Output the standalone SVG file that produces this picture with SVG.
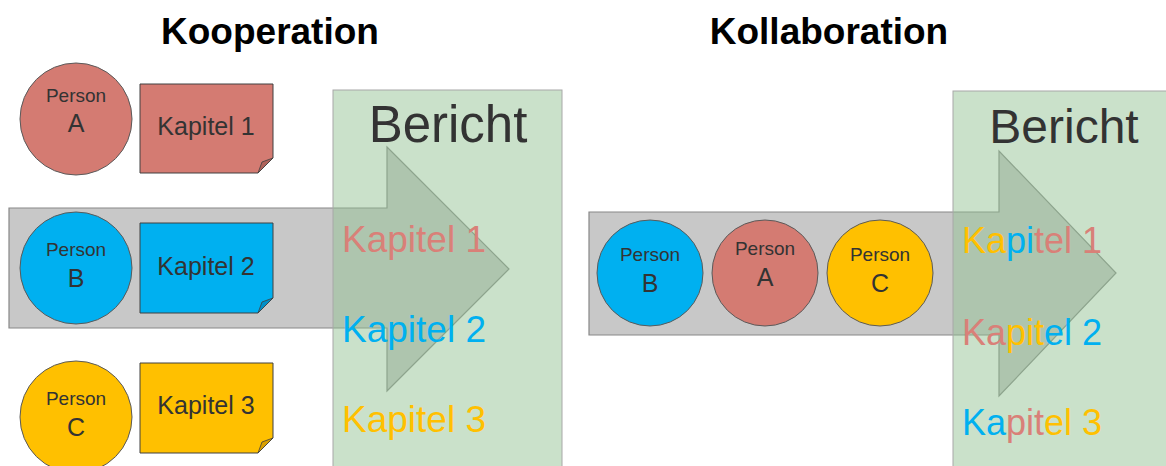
<svg xmlns="http://www.w3.org/2000/svg" width="1166" height="466" viewBox="0 0 1166 466">
  <style>
    text { font-family: "Liberation Sans", Arial, sans-serif; }
    .title { font-size: 37px; font-weight: bold; fill: #000; text-anchor: middle; }
    .circ { stroke: #5a5a5a; stroke-width: 1; }
    .note { stroke: #404040; stroke-width: 1; }
    .fold { stroke: #404040; stroke-width: 0.8; }
    .lbl { fill: #333; text-anchor: middle; }
    .p { font-size: 19px; }
    .l { font-size: 25px; }
    .k { font-size: 25px; }
    .arrow { fill: #c8c8c8; stroke: #888; stroke-width: 1.2; }
    .report { fill: #92c292; fill-opacity: 0.49; stroke: #a8a8a8; stroke-width: 1; }
    .rt { font-size: 51px; fill: #333; text-anchor: middle; }
    .rt2 { font-size: 48px; }
    .ch { font-size: 37px; }
    .ch2 { font-size: 36px; }
    .red { fill: #d98078; }
    .blue { fill: #00b0f0; }
    .yel { fill: #ffc000; }
    .cr { fill: #d47b72; }
    .cb { fill: #00b0f0; }
    .cy { fill: #ffc000; }
    .fr { fill: #b0625a; }
    .fb { fill: #0090c8; }
    .fy { fill: #d9a000; }
  </style>

  <!-- section titles -->
  <text class="title" x="270" y="44">Kooperation</text>
  <text class="title" x="829" y="44">Kollaboration</text>

  <!-- flow arrows (drawn below the report panels) -->
  <g id="connectors">
    <path class="arrow" d="M9,208 H387 V147 L509,269 L387,391 V328 H9 Z"/>
    <path class="arrow" d="M589,212 H999 V151 L1116,273 L999,396 V335 H589 Z"/>
  </g>

  <!-- Kooperation: persons and their chapters -->
  <g id="personA1">
    <circle class="circ cr" cx="76" cy="119" r="56"/>
    <text class="lbl p" x="76" y="102">Person</text>
    <text class="lbl l" x="76" y="132">A</text>
  </g>
  <g id="kapitel1">
    <path class="note cr" d="M140,84 H273 V158 L258,173 H140 Z"/>
    <path class="fold fr" d="M273,158 L262,162 L258,173 Z"/>
    <text class="lbl k" x="206" y="135">Kapitel 1</text>
  </g>

  <g id="personB1">
    <circle class="circ cb" cx="76" cy="268" r="56"/>
    <text class="lbl p" x="76" y="256">Person</text>
    <text class="lbl l" x="76" y="287">B</text>
  </g>
  <g id="kapitel2">
    <path class="note cb" d="M140,223 H273 V298 L258,313 H140 Z"/>
    <path class="fold fb" d="M273,298 L262,302 L258,313 Z"/>
    <text class="lbl k" x="206" y="275">Kapitel 2</text>
  </g>

  <g id="personC1">
    <circle class="circ cy" cx="76" cy="417" r="56"/>
    <text class="lbl p" x="76" y="405">Person</text>
    <text class="lbl l" x="76" y="436">C</text>
  </g>
  <g id="kapitel3">
    <path class="note cy" d="M140,363 H273 V438 L258,453 H140 Z"/>
    <path class="fold fy" d="M273,438 L262,442 L258,453 Z"/>
    <text class="lbl k" x="206" y="414">Kapitel 3</text>
  </g>

  <!-- Kooperation report -->
  <g id="bericht1">
    <rect class="report" x="333" y="90" width="229" height="390"/>
    <text class="rt" x="448" y="142">Bericht</text>
    <text class="ch red" x="342" y="252">Kapitel 1</text>
    <text class="ch blue" x="342" y="342">Kapitel 2</text>
    <text class="ch yel" x="342" y="432">Kapitel 3</text>
  </g>

  <!-- Kollaboration: persons together -->
  <g id="personB2">
    <circle class="circ cb" cx="650" cy="273" r="53"/>
    <text class="lbl p" x="650" y="261">Person</text>
    <text class="lbl l" x="650" y="292">B</text>
  </g>
  <g id="personA2">
    <circle class="circ cr" cx="765" cy="273" r="53"/>
    <text class="lbl p" x="765" y="255">Person</text>
    <text class="lbl l" x="765" y="286">A</text>
  </g>
  <g id="personC2">
    <circle class="circ cy" cx="880" cy="273" r="53"/>
    <text class="lbl p" x="880" y="261">Person</text>
    <text class="lbl l" x="880" y="292">C</text>
  </g>

  <!-- Kollaboration report: mixed authorship per chapter -->
  <g id="bericht2">
    <rect class="report" x="953" y="91" width="230" height="390"/>
    <text class="rt rt2" x="1064" y="143">Bericht</text>
    <text class="ch2" x="962" y="253"><tspan class="yel">Ka</tspan><tspan class="blue">pi</tspan><tspan class="red">tel 1</tspan></text>
    <text class="ch2" x="962" y="345"><tspan class="red">Ka</tspan><tspan class="yel">pit</tspan><tspan class="blue">el 2</tspan></text>
    <text class="ch2" x="962" y="435"><tspan class="blue">Ka</tspan><tspan class="red">pit</tspan><tspan class="yel">el 3</tspan></text>
  </g>
</svg>
